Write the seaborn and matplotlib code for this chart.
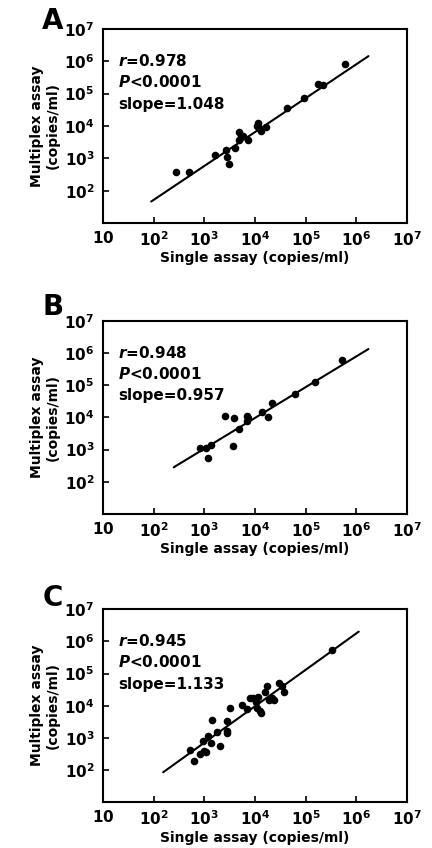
import numpy as np
import pandas as pd
import matplotlib
matplotlib.use("Agg")
import matplotlib.pyplot as plt
from matplotlib.ticker import FixedLocator, FixedFormatter, NullLocator
import seaborn as sns

# ---------------- data ----------------
panel_labels = ["A", "B", "C"]

a_single = [275, 510, 1660, 2690, 2880, 3020, 4070, 4790, 4900, 5250, 5890, 7410,
            11200, 12300, 11700, 13200, 16600, 42700, 91200, 174000, 219000, 603000]
a_multi = [370, 390, 1290, 1860, 1070, 660, 2090, 6310, 3800, 4790, 5010, 3800,
           10200, 8710, 12300, 6920, 9120, 36300, 72400, 204000, 178000, 832000]

b_single = [832, 1100, 1350, 1200, 2630, 3800, 3630, 4900, 6920, 7080, 7410,
            13800, 17800, 21400, 61700, 155000, 525000]
b_multi = [1120, 1120, 1350, 550, 10700, 9550, 1260, 4470, 10700, 7940, 9550,
           14500, 10000, 28200, 55000, 126000, 617000]

c_single = [525, 631, 832, 1000, 1070, 933, 1200, 1350, 1410, 1780, 2040, 2880,
            2880, 2820, 3240, 5500, 7080, 8130, 9330, 10500, 11700, 12600, 13200,
            11000, 15800, 17000, 18600, 21400, 23400, 30200, 33900, 38000, 339000]
c_multi = [427, 191, 316, 380, 363, 776, 1170, 676, 3630, 1480, 562, 1660,
           1380, 3240, 8710, 10700, 7940, 17800, 17000, 13500, 19100, 6920, 5890,
           8320, 27500, 39800, 15100, 17000, 15100, 50100, 39800, 27500, 550000]

r_values = ["0.978", "0.948", "0.945"]
p_text = "<0.0001"
slopes = [1.048, 0.957, 1.133]
intercepts_log = [-0.384, 0.153, -0.551]        # fitted line, log10 space
line_x_start = [90, 250, 155]
line_x_end = [1.74e6, 1.74e6, 1.12e6]

x_tick_vals = [1e1, 1e2, 1e3, 1e4, 1e5, 1e6, 1e7]
x_tick_labels = ["10", "10^{2}", "10^{3}", "10^{4}", "10^{5}", "10^{6}", "10^{7}"]
y_tick_vals = [1e2, 1e3, 1e4, 1e5, 1e6, 1e7]
y_tick_labels = ["10^{2}", "10^{3}", "10^{4}", "10^{5}", "10^{6}", "10^{7}"]

x_label = "Single assay (copies/ml)"
y_label = "Multiplex assay\n(copies/ml)"

# ---------------- style ----------------
sns.set_theme(style="ticks")
plt.rcParams["font.family"] = ["DejaVu Sans"]
plt.rcParams["font.weight"] = "bold"
plt.rcParams["text.color"] = "black"
plt.rcParams["axes.labelcolor"] = "black"
plt.rcParams["xtick.color"] = "black"
plt.rcParams["ytick.color"] = "black"
plt.rcParams["mathtext.fontset"] = "custom"
plt.rcParams["mathtext.rm"] = "DejaVu Sans:bold"
plt.rcParams["mathtext.bf"] = "DejaVu Sans:bold"
plt.rcParams["mathtext.it"] = "DejaVu Sans:italic:bold"

fig = plt.figure(figsize=(4.32, 8.48), dpi=100)
fig.patch.set_facecolor("white")

ax_rects = [[0.238, 0.737, 0.704, 0.229],
            [0.238, 0.394, 0.704, 0.2276],
            [0.238, 0.054, 0.704, 0.2276]]
letter_y = [0.966, 0.628, 0.285]

datasets = [(a_single, a_multi), (b_single, b_multi), (c_single, c_multi)]

for i, (xs, ys) in enumerate(datasets):
    ax = fig.add_axes(ax_rects[i])
    df = pd.DataFrame({"single": xs, "multi": ys})
    sns.scatterplot(data=df, x="single", y="multi", ax=ax, color="black",
                    s=30, linewidth=0, edgecolor="black", zorder=3)
    lx = np.array([line_x_start[i], line_x_end[i]])
    ly = 10 ** (intercepts_log[i] + slopes[i] * np.log10(lx))
    sns.lineplot(x=lx, y=ly, ax=ax, color="black", linewidth=1.5, zorder=2)

    ax.set_xscale("log")
    ax.set_yscale("log")
    ax.set_xlim(10, 1e7)
    ax.set_ylim(10, 1e7)

    ax.xaxis.set_major_locator(FixedLocator(x_tick_vals))
    ax.xaxis.set_major_formatter(FixedFormatter(
        [r"$\mathbf{" + t + "}$" for t in x_tick_labels]))
    ax.yaxis.set_major_locator(FixedLocator(y_tick_vals))
    ax.yaxis.set_major_formatter(FixedFormatter(
        [r"$\mathbf{" + t + "}$" for t in y_tick_labels]))
    ax.xaxis.set_minor_locator(NullLocator())
    ax.yaxis.set_minor_locator(NullLocator())
    ax.tick_params(axis="both", direction="in", length=4, width=1.2,
                   labelsize=11, colors="black")
    ax.tick_params(axis="x", pad=5)
    ax.tick_params(axis="y", pad=6)

    for sp in ax.spines.values():
        sp.set_visible(True)
        sp.set_linewidth(1.5)
        sp.set_color("black")

    ax.set_xlabel(x_label, fontsize=10, fontweight="bold", labelpad=2,
                  color="black")
    ax.set_ylabel(y_label, fontsize=10, fontweight="bold", labelpad=3,
                  linespacing=1.15, color="black")

    ax.text(0.05, 0.835, r"$\mathit{r}$=" + r_values[i], transform=ax.transAxes,
            fontsize=11, fontweight="bold", va="center", ha="left",
            color="black")
    ax.text(0.05, 0.725, r"$\mathit{P}$" + p_text, transform=ax.transAxes,
            fontsize=11, fontweight="bold", va="center", ha="left",
            color="black")
    ax.text(0.05, 0.612, "slope=%.3f" % slopes[i], transform=ax.transAxes,
            fontsize=11, fontweight="bold", va="center", ha="left",
            color="black")

    fig.text(0.098, letter_y[i], panel_labels[i], fontsize=20,
             fontweight="bold", ha="left", va="baseline", color="black")

fig.savefig("out.png", dpi=100, facecolor="white")
